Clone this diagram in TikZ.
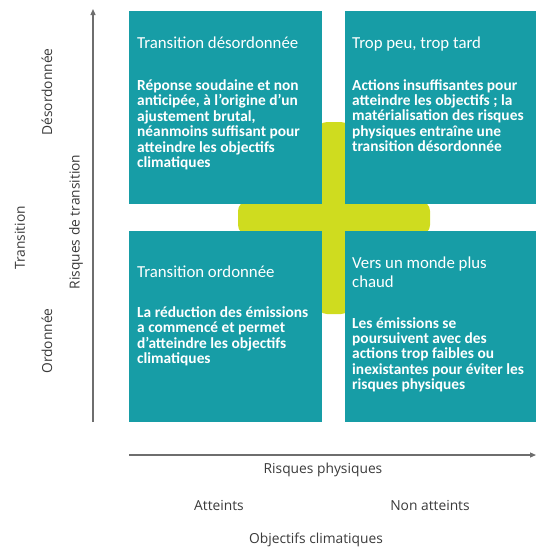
\documentclass[tikz,border=0pt]{standalone}
\usepackage{fontspec}
\setmainfont{Open Sans}
\newfontfamily\boxfont{Carlito}
\usetikzlibrary{arrows.meta}
\definecolor{tealbox}{HTML}{179DA6}
\definecolor{limecross}{HTML}{CFDC1F}
\definecolor{axisgray}{HTML}{6E6E6E}
\definecolor{labelgray}{HTML}{3A3A3A}
\newcommand{\boxlines}[1]{\begin{tabular}[t]{@{}l@{}}#1\end{tabular}}
\begin{document}
\begin{tikzpicture}[x=1pt,y=-1pt,
  quadbox/.style={draw=none,fill=tealbox,anchor=north west,inner sep=0pt},
  crossbar/.style={fill=limecross,rounded corners=10pt},
  boxtitle/.style={anchor=base west,inner sep=0pt,text=white,font=\boxfont\fontsize{16.8}{19}\selectfont},
  boxbody/.style={anchor=base west,inner sep=0pt,text=white,font=\boxfont\bfseries\fontsize{15.4}{15.3}\selectfont},
  axislabel/.style={inner sep=0pt,text=labelgray,font=\fontsize{13.8}{15}\selectfont},
  axisline/.style={draw=axisgray,line width=1.2pt,-{Triangle[length=6pt,width=5pt]}}]
\useasboundingbox (0,0) rectangle (536,549);
% yellow cross
\fill[crossbar] (238,201) rectangle (430,235);
\fill[crossbar] (317,122) rectangle (351,314);
% quadrant boxes
\node[quadbox,minimum width=193pt,minimum height=193pt] (tl) at (129,11) {};
\node[quadbox,minimum width=191pt,minimum height=193pt] (tr) at (345,11) {};
\node[quadbox,minimum width=193pt,minimum height=191pt] (bl) at (129,231) {};
\node[quadbox,minimum width=191pt,minimum height=191pt] (br) at (345,231) {};
% texts
\node[boxtitle] (tlT) at (137,48) {Transition désordonnée};
\node[boxbody] (tlB) at (137,90) {\boxlines{Réponse soudaine et non\\anticipée, à l’origine d’un\\ajustement brutal,\\néanmoins suffisant pour\\atteindre les objectifs\\climatiques}};
\node[boxtitle] (trT) at (352,48) {Trop peu, trop tard};
\node[boxbody] (trB) at (352,90) {\boxlines{Actions insuffisantes pour\\atteindre les objectifs ; la\\matérialisation des risques\\physiques entraîne une\\transition désordonnée}};
\node[boxtitle] (blT) at (137,277) {Transition ordonnée};
\node[boxbody] (blB) at (137,317) {\boxlines{La réduction des émissions\\a commencé et permet\\d’atteindre les objectifs\\climatiques}};
\node[boxtitle] (brT) at (352,268) {\boxlines{Vers un monde plus\\chaud}};
\node[boxbody] (brB) at (352,328) {\boxlines{Les émissions se\\poursuivent avec des\\actions trop faibles ou\\inexistantes pour éviter les\\risques physiques}};
% axes
\coordinate (vbot) at (93,422);
\coordinate (vtop) at (93,9);
\coordinate (hleft) at (129,455);
\coordinate (hright) at (536,455);
\draw[axisline] (vbot) -- (vtop);
\draw[axisline] (hleft) -- (hright);
% axis labels
\node[axislabel,rotate=90] (ltrans) at (20,238) {Transition};
\node[axislabel,rotate=90] (ldes) at (47,92) {Désordonnée};
\node[axislabel,rotate=90] (lord) at (47,341) {Ordonnée};
\node[axislabel,rotate=90] (lrisk) at (76,222) {Risques de transition};
\node[axislabel] (lphys) at (323,470) {Risques physiques};
\node[axislabel] (latt) at (219,505) {Atteints};
\node[axislabel] (lnon) at (430,505) {Non atteints};
\node[axislabel] (lobj) at (316,540) {Objectifs climatiques};
\end{tikzpicture}
\end{document}
